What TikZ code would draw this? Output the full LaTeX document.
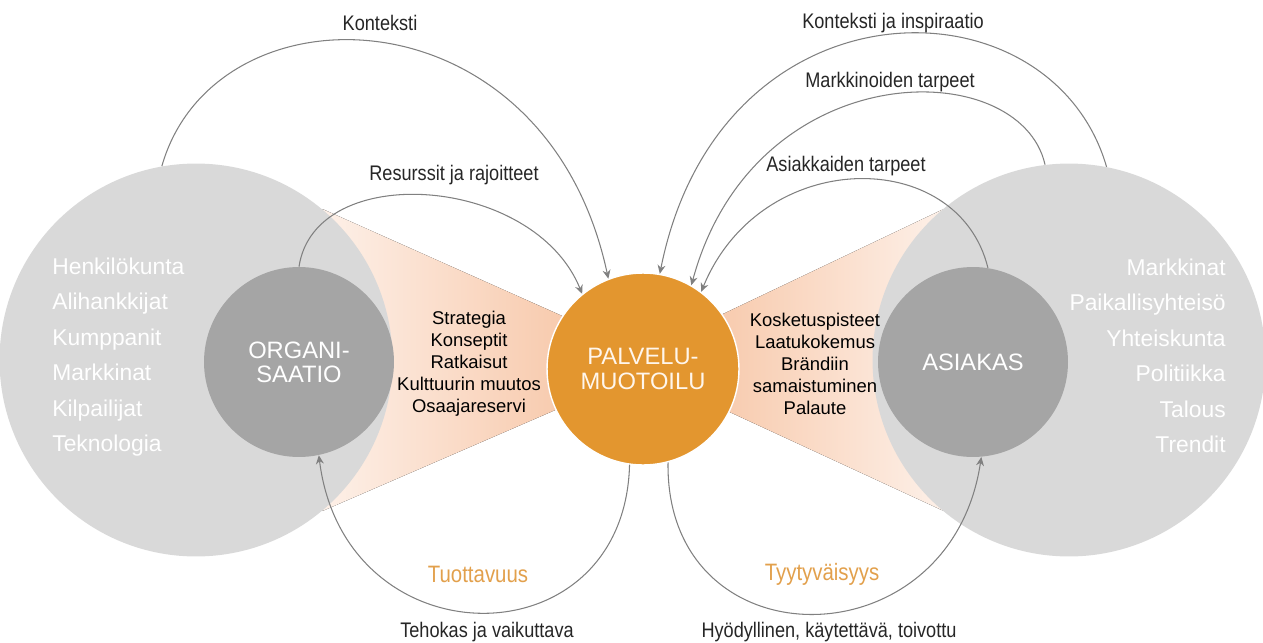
\documentclass[tikz,border=0pt]{standalone}
\usepackage{fontspec}
\setmainfont{Liberation Sans}
\newfontfamily\narrowfont{Liberation Sans}[FakeStretch=0.86]
\usetikzlibrary{arrows.meta}
\definecolor{PMorange}{HTML}{E3962F}
\definecolor{PMgoal}{HTML}{E2A04C}
\definecolor{PMcream}{HTML}{FFF6EC}
\definecolor{ringgrey}{HTML}{D9D9D9}
\definecolor{coregrey}{HTML}{A5A5A5}
\definecolor{arcgrey}{HTML}{808080}
\definecolor{wedgelight}{HTML}{FDF0E8}
\definecolor{wedgedark}{HTML}{F6BE9A}
\begin{document}
\begin{tikzpicture}[x=0.02cm,y=-0.02cm,
    ring/.style={circle,fill=ringgrey,minimum size=7.86cm,inner sep=0pt},
    core/.style={circle,fill=coregrey,minimum size=3.8cm,inner sep=0pt,
                 text=white,align=center,font=\fontsize{13.5}{13.8}\selectfont},
    hub/.style={circle,fill=PMorange,draw=white,line width=0.8pt,minimum size=3.84cm,
                inner sep=0pt,text=PMcream,align=center,font=\fontsize{13.5}{14.2}\selectfont},
    outlist/.style={text=white,inner sep=0pt,font=\fontsize{13}{20.2}\selectfont},
    midlist/.style={align=center,inner sep=0pt,font=\fontsize{10.5}{12.5}\selectfont},
    arclabel/.style={text=black!85,inner sep=0pt,font=\narrowfont\fontsize{12}{14}\selectfont},
    goal/.style={text=PMgoal,inner sep=0pt,font=\narrowfont\fontsize{13.5}{15}\selectfont},
    flow/.style={-{Stealth[length=5pt,width=4.5pt]},arcgrey,line width=0.6pt},
  ]
  \useasboundingbox (0,0) rectangle (1263,642);

  \fill[left color=wedgelight,right color=wedgedark]
    (322.6,209.1) -- (643,352) -- (643,372) -- (322.6,510.9) -- cycle;
  \fill[left color=wedgedark,right color=wedgelight]
    (643,352) -- (942.7,209.5) -- (942.7,510.5) -- (643,372) -- cycle;

  \node[ring] (bigL) at (196,360) {};
  \node[ring] (bigR) at (1069,360) {};

  \node[core] (org) at (299,362) {ORGANI-\\SAATIO};
  \node[core] (ask) at (973,362) {ASIAKAS};
  \node[hub]  (hub) at (643,369) {PALVELU-\\MUOTOILU};

  \node[outlist,align=left,anchor=west] (orglist) at (52,357)
    {Henkilökunta\\Alihankkijat\\Kumppanit\\Markkinat\\Kilpailijat\\Teknologia};
  \node[outlist,align=right,anchor=east] (asklist) at (1226,356)
    {Markkinat\\Paikallisyhteisö\\Yhteiskunta\\Politiikka\\Talous\\Trendit};

  \node[midlist] (orgout) at (469,364)
    {Strategia\\Konseptit\\Ratkaisut\\Kulttuurin muutos\\Osaajareservi};
  \node[midlist] (askout) at (815,364)
    {Kosketuspisteet\\Laatukokemus\\Brändiin\\samaistuminen\\Palaute};

  \draw[flow] (bigL.100) .. controls +(53,-186) and +(-63,-293) .. (hub.111);
  \draw[flow] (org.90) .. controls +(16,-107) and +(-48,-119) .. (hub.129);
  \draw[flow] (bigR.79) .. controls +(-56,-193) and +(60,-300) .. (hub.80);
  \draw[flow] (bigR.97) .. controls +(-25,-111) and +(63,-232) .. (hub.60);
  \draw[flow] (ask.81) .. controls +(-30,-122) and +(60,-146) .. (hub.53);
  \draw[flow] (hub.262) .. controls +(-5,199) and +(26,208) .. (org.282);
  \draw[flow] (hub.285) .. controls +(-3,203) and +(-31,208) .. (ask.275);

  \node[arclabel] (lctx)  at (380,23)  {Konteksti};
  \node[arclabel] (lres)  at (454,175) {Resurssit ja rajoitteet};
  \node[arclabel] (rctx)  at (893,23)  {Konteksti ja inspiraatio};
  \node[arclabel] (rmark) at (890,82)  {Markkinoiden tarpeet};
  \node[arclabel] (rcust) at (846,166) {Asiakkaiden tarpeet};

  \node[goal] (prod) at (478,574) {Tuottavuus};
  \node[goal] (sat)  at (822,574) {Tyytyväisyys};
  \node[arclabel] (prodtxt) at (487,632) {Tehokas ja vaikuttava};
  \node[arclabel] (sattxt)  at (829,632) {Hyödyllinen, käytettävä, toivottu};
\end{tikzpicture}
\end{document}
